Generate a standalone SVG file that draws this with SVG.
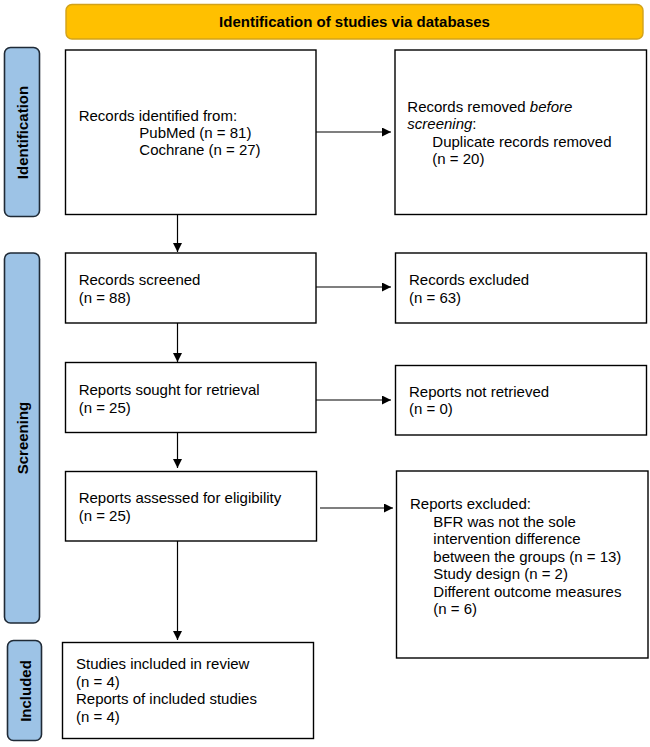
<svg xmlns="http://www.w3.org/2000/svg" width="650" height="747" viewBox="0 0 650 747">
<defs>
<marker id="ah" viewBox="0 0 10 10" refX="10" refY="5" markerWidth="9" markerHeight="9" markerUnits="userSpaceOnUse" orient="auto">
<path d="M0,0 L10,5 L0,10 Z" fill="#000"/>
</marker>
<style>
.box{fill:#fff;stroke:#000;stroke-width:1.4}
.lab{fill:#9DC3E6;stroke:#1F2A36;stroke-width:1.6}
.t{font-family:"Liberation Sans",Arial,sans-serif;font-size:15px;fill:#000}
.b{font-family:"Liberation Sans",Arial,sans-serif;font-size:15px;font-weight:bold;fill:#000}
.c{stroke:#000;stroke-width:1.2;fill:none;marker-end:url(#ah)}
</style>
</defs>
<rect width="650" height="747" fill="#fff"/>
<g id="title">
<rect x="66" y="4.5" width="577" height="34.5" rx="6" fill="#FFC000" stroke="#D2A21A" stroke-width="1.4"/>
<text class="b" x="354.5" y="27" text-anchor="middle">Identification of studies via databases</text>
</g>
<g id="lab-identification">
<rect class="lab" x="4.5" y="47.5" width="35" height="169" rx="6"/>
<text class="b" transform="translate(28.3,132.5) rotate(-90)" text-anchor="middle">Identification</text>
</g>
<g id="lab-screening">
<rect class="lab" x="4.5" y="253" width="35" height="370" rx="6"/>
<text class="b" transform="translate(28.3,438) rotate(-90)" text-anchor="middle">Screening</text>
</g>
<g id="lab-included">
<rect class="lab" x="7.5" y="640.5" width="34" height="100" rx="6"/>
<text class="b" transform="translate(31,691) rotate(-90)" text-anchor="middle">Included</text>
</g>
<g id="n-identified">
<rect class="box" x="65.5" y="50" width="250.5" height="164.5"/>
<text class="t" x="78.7" y="120.7">Records identified from:</text>
<text class="t" x="139.3" y="138">PubMed (n = 81)</text>
<text class="t" x="139.3" y="155.3">Cochrane (n = 27)</text>
</g>
<g id="n-removed">
<rect class="box" x="395" y="50" width="251.5" height="164.5"/>
<text class="t" x="407.3" y="111.7">Records removed <tspan font-style="italic">before</tspan></text>
<text class="t" x="407.3" y="129"><tspan font-style="italic">screening</tspan>:</text>
<text class="t" x="432.3" y="146.5">Duplicate records removed</text>
<text class="t" x="432.3" y="164">(n = 20)</text>
</g>
<g id="n-screened">
<rect class="box" x="65.5" y="253" width="250.5" height="70"/>
<text class="t" x="78.7" y="285">Records screened</text>
<text class="t" x="78.7" y="302.5">(n = 88)</text>
</g>
<g id="n-excluded">
<rect class="box" x="395.5" y="253" width="251" height="70"/>
<text class="t" x="409" y="285">Records excluded</text>
<text class="t" x="409" y="302.5">(n = 63)</text>
</g>
<g id="n-sought">
<rect class="box" x="65.5" y="362.5" width="250.5" height="70"/>
<text class="t" x="78.7" y="395">Reports sought for retrieval</text>
<text class="t" x="78.7" y="412.5">(n = 25)</text>
</g>
<g id="n-notretrieved">
<rect class="box" x="395.5" y="365.5" width="251" height="69.5"/>
<text class="t" x="409" y="396.5">Reports not retrieved</text>
<text class="t" x="409" y="414">(n = 0)</text>
</g>
<g id="n-assessed">
<rect class="box" x="65.5" y="471.5" width="251" height="69.5"/>
<text class="t" x="78.7" y="503.3">Reports assessed for eligibility</text>
<text class="t" x="78.7" y="520.7">(n = 25)</text>
</g>
<g id="n-reportsexcluded">
<rect class="box" x="396.5" y="471" width="251.5" height="187"/>
<text class="t" x="410" y="509.3">Reports excluded:</text>
<text class="t" x="433.3" y="526.7">BFR was not the sole</text>
<text class="t" x="433.3" y="544.2">intervention difference</text>
<text class="t" x="433.3" y="561.7">between the groups (n = 13)</text>
<text class="t" x="433.3" y="579.2">Study design (n = 2)</text>
<text class="t" x="433.3" y="596.7">Different outcome measures</text>
<text class="t" x="433.3" y="614">(n = 6)</text>
</g>
<g id="n-included">
<rect class="box" x="62.5" y="642.5" width="251" height="96"/>
<text class="t" x="76" y="669.3">Studies included in review</text>
<text class="t" x="76" y="686.7">(n = 4)</text>
<text class="t" x="76" y="704.2">Reports of included studies</text>
<text class="t" x="76" y="721.7">(n = 4)</text>
</g>
<g id="connectors">
<line class="c" x1="316" y1="132" x2="391" y2="132"/>
<line class="c" x1="177.5" y1="214.5" x2="177.5" y2="252"/>
<line class="c" x1="316" y1="287" x2="391" y2="287"/>
<line class="c" x1="177.5" y1="323" x2="177.5" y2="362"/>
<line class="c" x1="316" y1="400" x2="391" y2="400"/>
<line class="c" x1="177.5" y1="432.5" x2="177.5" y2="468"/>
<line class="c" x1="320" y1="508" x2="393" y2="508"/>
<line class="c" x1="177.5" y1="541" x2="177.5" y2="640"/>
</g>
</svg>
